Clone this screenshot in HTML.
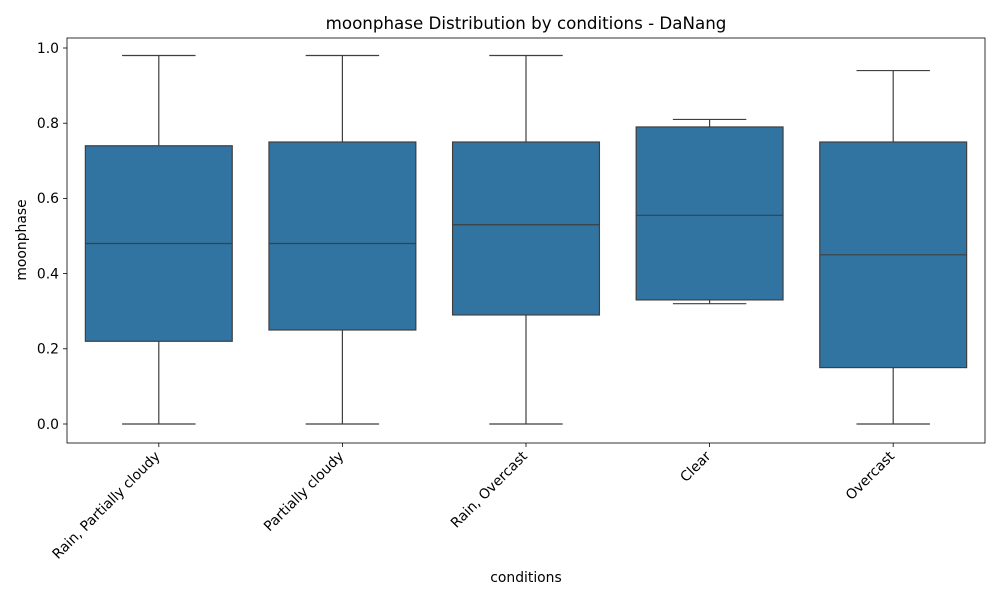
<!DOCTYPE html>
<html><head><meta charset="utf-8"><style>
body{margin:0;background:#fff;font-family:"DejaVu Sans",sans-serif;}
</style></head><body>
<svg id="chart" width="1000" height="600" xmlns="http://www.w3.org/2000/svg" font-family="DejaVu Sans, sans-serif">
<rect width="1000" height="600" fill="#fff"/>
<text x="526" y="29" text-anchor="middle" font-size="16.7">moonphase Distribution by conditions - DaNang</text>
<g id="plot"></g>
<rect x="67" y="38" width="918" height="405" fill="none" stroke="#000" stroke-width="0.8"/>
<text x="526" y="582" text-anchor="middle" font-size="13.9">conditions</text>
<text transform="translate(26,240) rotate(-90)" text-anchor="middle" font-size="13.9">moonphase</text>
</svg>
<script>
const categories=["Rain, Partially cloudy","Partially cloudy","Rain, Overcast","Clear","Overcast"];
const whiskerLow=[0,0,0,0.32,0];
const q1=[0.22,0.25,0.29,0.33,0.15];
const median=[0.48,0.48,0.53,0.555,0.45];
const q3=[0.74,0.75,0.75,0.79,0.75];
const whiskerHigh=[0.98,0.98,0.98,0.81,0.94];
const yTicks=[0,0.2,0.4,0.6,0.8,1.0];
const yTickLabels=["0.0","0.2","0.4","0.6","0.8","1.0"];
const NS="http://www.w3.org/2000/svg";
const L=67,R=985,T=38,B=443;
const y=v=>424-v*376;
const step=(R-L)/categories.length;
const x=i=>L+step*(i+0.5);
const g=document.getElementById('plot');
function mk(tag,attrs,parent){const e=document.createElementNS(NS,tag);for(const k in attrs)e.setAttribute(k,attrs[k]);(parent||g).appendChild(e);return e;}
yTicks.forEach((v,i)=>{
 const t=mk('line',{x1:L-4,x2:L,y1:y(v),y2:y(v),stroke:'#000','stroke-width':0.8});
 
 
 const lb=mk('text',{x:L-8,y:y(v)+4.8,'text-anchor':'end','font-size':13.9});
 
 
 lb.textContent=yTickLabels[i];
});
const bw=step*0.8, cw=bw/2;
categories.forEach((c,i)=>{
 const cx=x(i);
 const grp=mk('g',{});
 
 
 const s={stroke:'#3f3f3f','stroke-width':1.2};
 mk('line',Object.assign({x1:cx,x2:cx,y1:y(whiskerLow[i]),y2:y(q1[i])},s),grp);
 mk('line',Object.assign({x1:cx,x2:cx,y1:y(q3[i]),y2:y(whiskerHigh[i])},s),grp);
 mk('line',Object.assign({x1:cx-cw/2,x2:cx+cw/2,y1:y(whiskerLow[i]),y2:y(whiskerLow[i])},s),grp);
 mk('line',Object.assign({x1:cx-cw/2,x2:cx+cw/2,y1:y(whiskerHigh[i]),y2:y(whiskerHigh[i])},s),grp);
 mk('rect',Object.assign({x:cx-bw/2,y:y(q3[i]),width:bw,height:y(q1[i])-y(q3[i]),fill:'#3274a1'},s),grp);
 mk('line',Object.assign({x1:cx-bw/2,x2:cx+bw/2,y1:y(median[i]),y2:y(median[i])},s),grp);
 const t=mk('line',{x1:cx,x2:cx,y1:B,y2:B+4,stroke:'#000','stroke-width':0.8});
 
 
 const lb=mk('text',{transform:`translate(${cx+2},${B+14}) rotate(-45)`,'text-anchor':'end','font-size':13.9});
 
 
 lb.textContent=c;
});
</script>
</body></html>
